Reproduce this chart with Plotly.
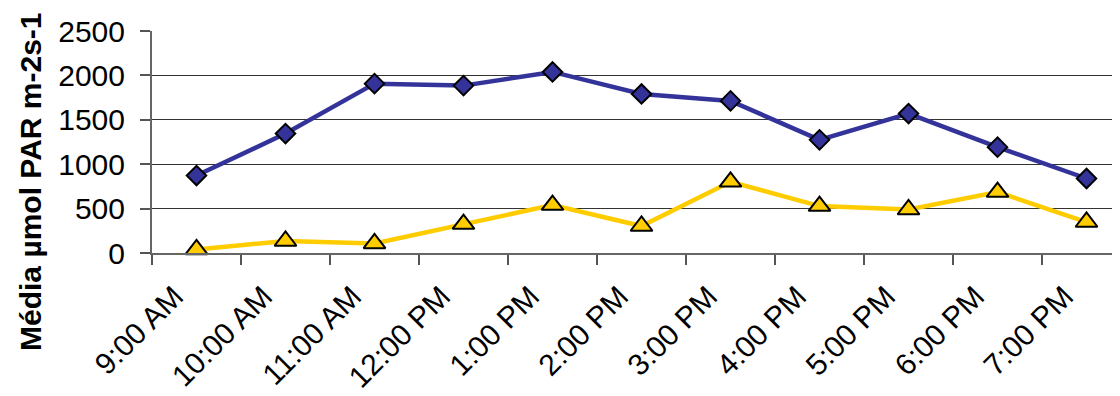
import plotly.graph_objects as go

categories = ["9:00 AM", "10:00 AM", "11:00 AM", "12:00 PM", "1:00 PM", "2:00 PM",
              "3:00 PM", "4:00 PM", "5:00 PM", "6:00 PM", "7:00 PM"]
series_blue = [872, 1345, 1907, 1885, 2039, 1791, 1713, 1274, 1570, 1192, 839]
series_yellow = [40, 135, 108, 326, 540, 304, 802, 528, 490, 686, 349]
y_ticks = [0, 500, 1000, 1500, 2000, 2500]
y_title = "Média µmol PAR m-2s-1"

FONT = "Liberation Sans, Arial, sans-serif"

fig = go.Figure()
fig.add_trace(go.Scatter(
    x=categories, y=series_blue, mode="lines+markers",
    line=dict(color="#333399", width=4.5),
    marker=dict(symbol="diamond", size=15, color="#333399",
                line=dict(color="black", width=2)),
    showlegend=False, cliponaxis=False))
fig.add_trace(go.Scatter(
    x=categories, y=series_yellow, mode="lines+markers",
    line=dict(color="#FFCC00", width=4.5),
    marker=dict(symbol="triangle-up", size=19, color="#FFCC00",
                line=dict(color="black", width=2)),
    showlegend=False, cliponaxis=False))

# page body has an 8px default margin, so the figure is offset by (8, 8)
fig.update_layout(
    width=1112, height=388,
    margin=dict(l=144, r=0, t=23, b=143),
    paper_bgcolor="white", plot_bgcolor="white",
    font=dict(family=FONT, color="black", size=30),
    xaxis=dict(
        type="category", range=[-0.5, 10.376], automargin=False,
        tickson="boundaries", ticks="outside", ticklen=10, tickwidth=1.5, tickcolor="#555",
        showline=True, linecolor="#666", linewidth=2,
        showgrid=False, tickangle=-45,
        ticklabelshift=-22, ticklabelstandoff=12,
        tickfont=dict(family=FONT, size=30, color="black"),
    ),
    yaxis=dict(
        range=[0, 2500], tickvals=y_ticks, ticktext=[str(v) for v in y_ticks],
        automargin=False,
        ticks="outside", ticklen=10, tickwidth=1.5, tickcolor="#555",
        showline=True, linecolor="#666", linewidth=2,
        showgrid=True, gridcolor="#333", gridwidth=1,
        zeroline=False,
        tickfont=dict(family=FONT, size=30, color="black"),
        ticklabelstandoff=9,
    ),
    annotations=[dict(
        text="<b>" + y_title + "</b>", textangle=-90,
        xref="paper", yref="paper", x=0, y=0.32,
        xanchor="center", yanchor="middle", xshift=-121,
        showarrow=False, font=dict(family=FONT, size=30, color="black"))],
)

fig.write_html("out.html")
